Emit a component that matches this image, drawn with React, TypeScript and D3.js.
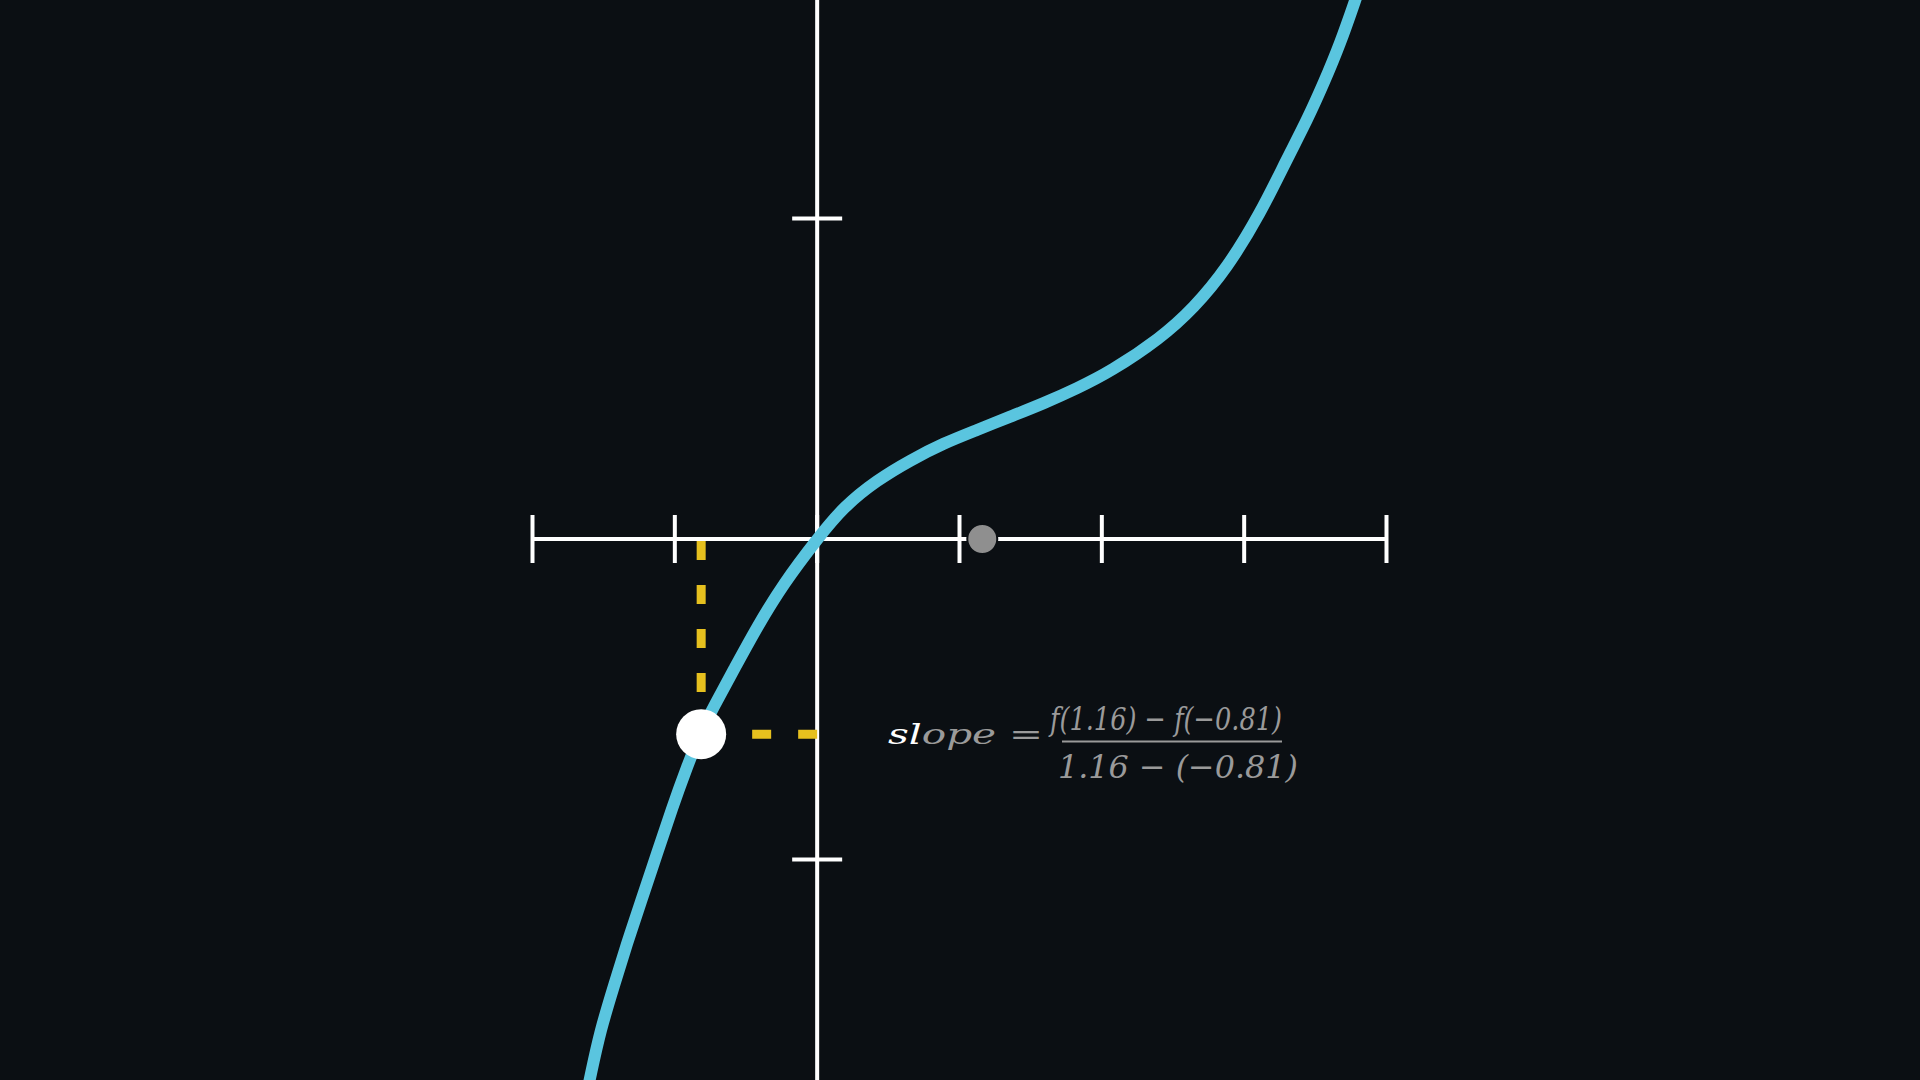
import React from "react";
import * as d3 from "d3";

// Curve samples (axis units)
const curveX = [-1.63, -1.594, -1.523, -1.43, -1.336, -1.242, -1.125, -1.019, -0.914, -0.821, -0.727, -0.587, -0.422, -0.235, 0, 0.186, 0.421, 0.655, 0.889, 1.123, 1.357, 1.591, 1.826, 2.06, 2.411, 2.645, 2.88, 3.114, 3.301, 3.442, 3.559, 3.676, 3.781, 3.82];
const curveY = [-1.754, -1.678, -1.532, -1.397, -1.261, -1.137, -0.981, -0.839, -0.71, -0.606, -0.523, -0.409, -0.274, -0.138, 0, 0.101, 0.184, 0.246, 0.299, 0.34, 0.382, 0.423, 0.47, 0.522, 0.626, 0.72, 0.845, 1.016, 1.186, 1.307, 1.422, 1.547, 1.682, 1.732];

const xTicks = [-2, -1, 0, 1, 2, 3, 4];
const yTicks = [-1, 1];

const pointA = { x: -0.815, y: -0.609 };
const pointB = { x: 1.16, y: 0 };

const labelLeft = "slope =";
const numerator = "f(1.16) − f(−0.81)";
const denominator = "1.16 − (−0.81)";

const W = 1920;
const H = 1080;

export default function App() {
  const x = d3.scaleLinear().domain([-2, 4]).range([532.5, 1386.5]);
  const y = d3.scaleLinear().domain([-1, 1]).range([859.5, 218.5]);

  const pts = curveX.map((v, i) => [v, curveY[i]] as [number, number]);
  const line = d3
    .line<[number, number]>()
    .x((d) => x(d[0]))
    .y((d) => y(d[1]))
    .curve(d3.curveBasis);

  const bg = "#0b0f13";
  const axisColor = "#ffffff";
  const curveColor = "#5ac5df";
  const yellow = "#e6c01e";
  const gray = "#8f8f8f";
  const textGray = "#9a9a9a";

  const x0 = x(0);
  const y0 = y(0);

  return (
    <svg
      width={W}
      height={H}
      style={{ position: "fixed", left: 0, top: 0, display: "block" }}
      viewBox={`0 0 ${W} ${H}`}
    >
      <defs>
        <clipPath id="frame">
          <rect x={0} y={0} width={W} height={H} />
        </clipPath>
      </defs>
      <rect x={0} y={0} width={W} height={H} fill={bg} />
      <g clipPath="url(#frame)">
        {/* x axis */}
        <line x1={x(-2)} x2={x(4)} y1={y0} y2={y0} stroke={axisColor} strokeWidth={4} />
        {xTicks.map((t) => (
          <line key={"xt" + t} x1={x(t)} x2={x(t)} y1={y0 - 24} y2={y0 + 24} stroke={axisColor} strokeWidth={4} />
        ))}
        {/* y axis */}
        <line x1={x0} x2={x0} y1={0} y2={H} stroke={axisColor} strokeWidth={4} />
        {yTicks.map((t) => (
          <line key={"yt" + t} x1={x0 - 25} x2={x0 + 25} y1={y(t)} y2={y(t)} stroke={axisColor} strokeWidth={4} />
        ))}

        {/* dashed guides */}
        <line
          x1={x(pointA.x)}
          x2={x(pointA.x)}
          y1={y0 + 2}
          y2={y(pointA.y)}
          stroke={yellow}
          strokeWidth={9}
          strokeDasharray="19 25"
        />
        <line
          x1={x0}
          x2={x(pointA.x)}
          y1={y(pointA.y)}
          y2={y(pointA.y)}
          stroke={yellow}
          strokeWidth={9}
          strokeDasharray="19 27"
        />

        {/* curve */}
        <path d={line(pts) || ""} fill="none" stroke={curveColor} strokeWidth={12} strokeLinecap="round" />

        {/* points */}
        <circle cx={x(pointB.x)} cy={y(pointB.y)} r={15} fill={gray} stroke={bg} strokeWidth={2} />
        <circle cx={x(pointA.x)} cy={y(pointA.y)} r={25} fill="#ffffff" />

        {/* formula */}
        <g fontFamily="DejaVu Serif, serif" fontStyle="italic">
          <text x={888} y={744} fontSize={28} fill={textGray} textLength={155} lengthAdjust="spacingAndGlyphs">
            <tspan fill="#ffffff">{labelLeft.slice(0, 2)}</tspan>
            {labelLeft.slice(2)}
          </text>
          <text x={1050} y={730} fontSize={32} fill={textGray} textLength={232} lengthAdjust="spacingAndGlyphs">
            {numerator}
          </text>
          <line x1={1062} x2={1282} y1={741.5} y2={741.5} stroke={textGray} strokeWidth={2} />
          <text x={1058} y={778} fontSize={32} fill={textGray} textLength={240} lengthAdjust="spacingAndGlyphs">
            {denominator}
          </text>
        </g>
      </g>
    </svg>
  );
}
